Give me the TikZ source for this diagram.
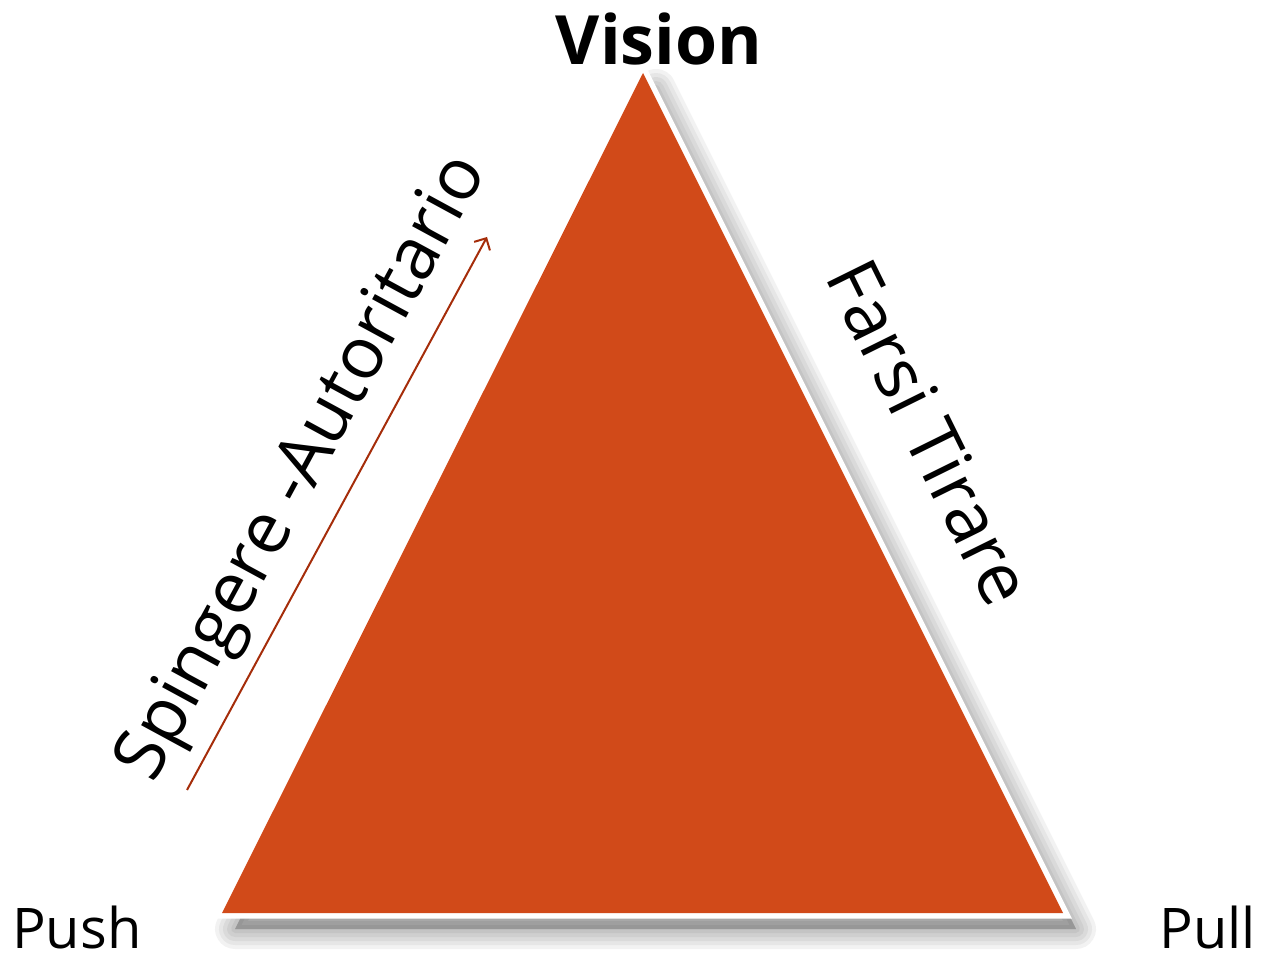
\documentclass[tikz,border=0pt]{standalone}
\usepackage{fontspec}
\setmainfont{Open Sans}
\usetikzlibrary{arrows.meta}
\definecolor{tri}{RGB}{209,74,25}
\definecolor{arr}{RGB}{165,45,10}
\begin{document}
\begin{tikzpicture}[x=1pt,y=1pt,
  lbl/.style={font=\fontsize{72}{80}\selectfont, inner sep=0pt},
  corner/.style={font=\fontsize{56}{64}\selectfont, inner sep=0pt},
  shadowlayer/.style={black, line join=round}]
\useasboundingbox (0,0) rectangle (1264,959);
\coordinate (T) at (643,886);
\coordinate (L) at (222,46);
\coordinate (R) at (1063,46);
% soft drop shadow
\foreach \w in {40,32,24,16,8}{
  \filldraw[shadowlayer, opacity=0.05, line width=\w]
    ([xshift=13,yshift=-16]T) -- ([xshift=13,yshift=-16]L) -- ([xshift=13,yshift=-16]R) -- cycle;
}
% white border
\filldraw[white, line width=11, line join=miter] (T) -- (L) -- (R) -- cycle;
% triangle
\fill[tri] (T) -- (L) -- (R) -- cycle;
% labels
\node[corner, font=\fontsize{68}{76}\selectfont\bfseries, anchor=base] (vision) at (659,894) {Vision};
\node[corner, anchor=base west] (push) at (12,11) {Push};
\node[corner, anchor=base east] (pull) at (1256,11) {Pull};
\node[lbl, rotate=61.5] (spingere) at (305,490) {Spingere -Autoritario};
\node[lbl, rotate=-63.7] (farsi) at (930,527) {Farsi Tirare};
% arrow
\coordinate (a1) at (187,169);
\coordinate (a2) at (487,722);
\draw[arr, line width=2, -{Straight Barb[length=9,width=18]}] (a1) -- (a2);
\end{tikzpicture}
\end{document}
